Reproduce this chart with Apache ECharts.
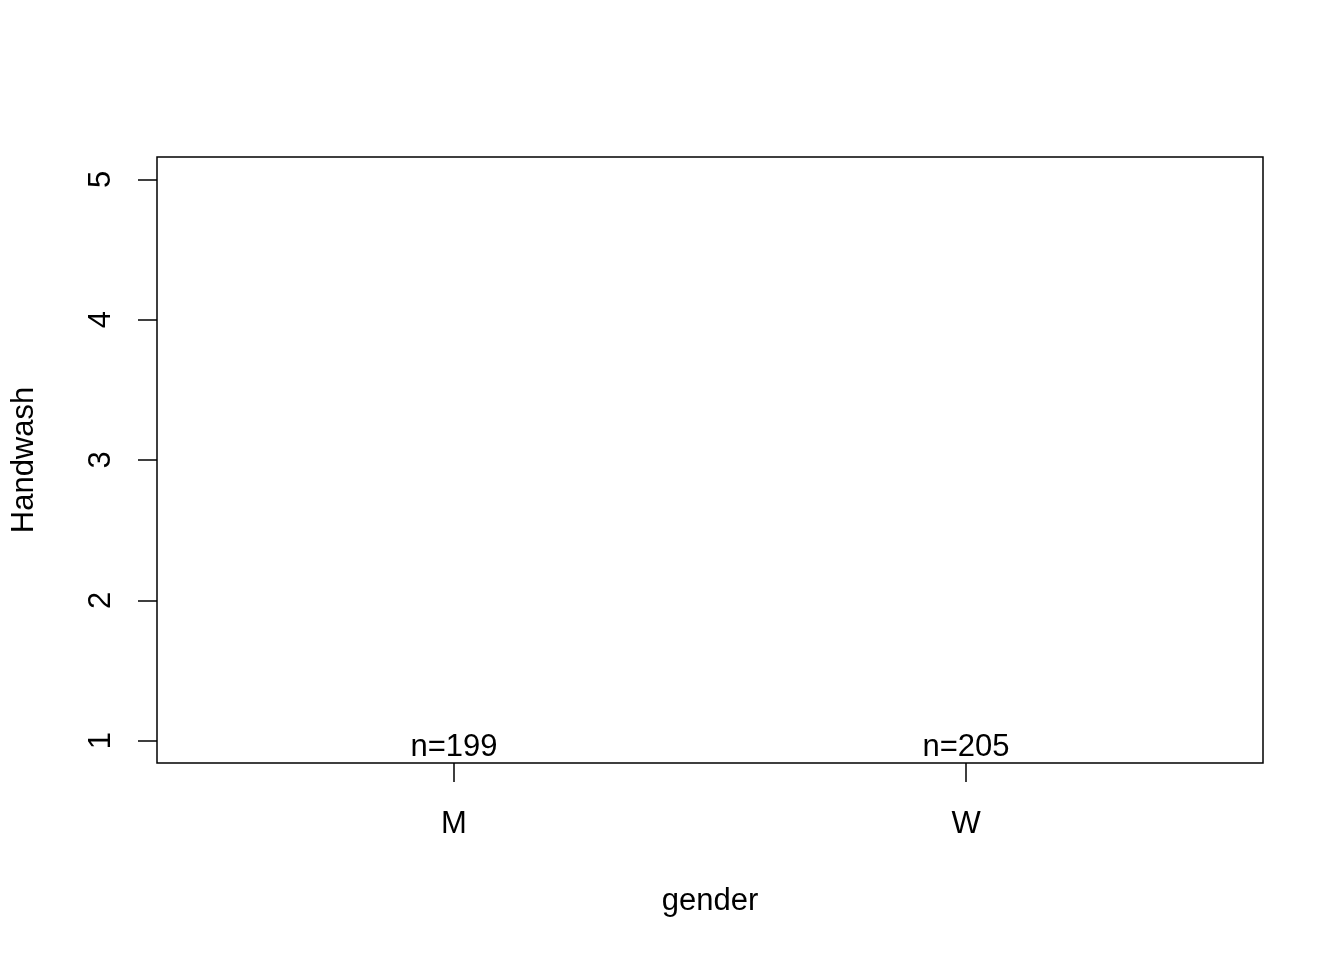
<!DOCTYPE html>
<html>
<head>
<meta charset="utf-8">
<script src="https://cdn.jsdelivr.net/npm/echarts@6/dist/echarts.min.js"></script>
<style>html,body{margin:0;padding:0;background:#fff}#c{width:1344px;height:960px}</style>
</head>
<body>
<div id="c"></div>
<script>
const categories = ['M', 'W'];
const counts = [199, 205];
const yTicks = [1, 2, 3, 4, 5];
const xTicks = [1, 2];
const yMin = 0.84, yMax = 5.16;
const xMin = 0.42, xMax = 2.58;

const FONT = 'Liberation Sans, Arial, Helvetica, sans-serif';
const FS = 31;
const chart = echarts.init(document.getElementById('c'), null, {renderer: 'canvas'});
chart.setOption({
  backgroundColor: '#ffffff',
  animation: false,
  grid: {left: 157, right: 81, top: 157, bottom: 197, show: true, borderColor: '#000', borderWidth: 1.5, backgroundColor: 'transparent'},
  xAxis: {
    type: 'value', min: xMin, max: xMax,
    name: 'gender', nameLocation: 'middle', nameGap: 123,
    nameTextStyle: {color: '#000', fontSize: FS, fontFamily: FONT},
    splitLine: {show: false},
    axisLine: {show: false},
    axisTick: {show: true, inside: false, length: 19, lineStyle: {color: '#000', width: 1.5}, customValues: xTicks},
    axisLabel: {color: '#000', fontSize: FS, fontFamily: FONT, margin: 46, customValues: xTicks,
      formatter: v => categories[Math.round(v) - 1] || ''}
  },
  yAxis: {
    type: 'value', min: yMin, max: yMax,
    name: 'Handwash', nameLocation: 'middle', nameGap: 117,
    nameTextStyle: {color: '#000', fontSize: FS, fontFamily: FONT},
    splitLine: {show: false},
    axisLine: {show: false},
    axisTick: {show: true, inside: false, length: 19, lineStyle: {color: '#000', width: 1.5}, customValues: yTicks},
    axisLabel: {color: '#000', fontSize: FS, fontFamily: FONT, rotate: 90, margin: 40, customValues: yTicks,
      formatter: v => String(v)}
  },
  series: [{
    type: 'scatter',
    symbolSize: 0,
    silent: true,
    itemStyle: {opacity: 1},
    data: counts.map((n, i) => [i + 1, yMin]),
    label: {
      show: true, position: 'top', distance: 0, color: '#000', opacity: 1, fontSize: FS, fontFamily: FONT,
      formatter: p => 'n=' + counts[p.dataIndex]
    }
  }]
});
</script>
</body>
</html>
